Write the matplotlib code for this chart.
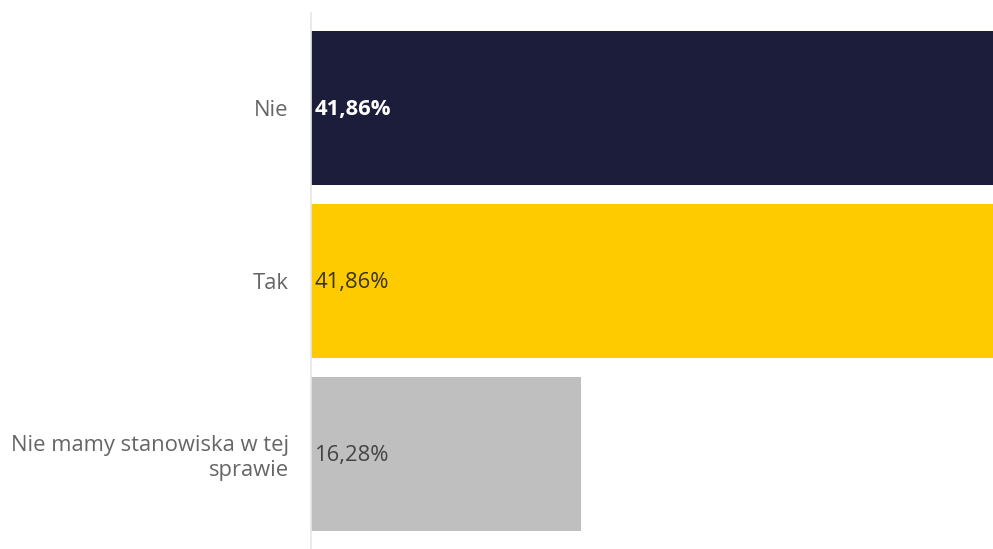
import matplotlib
matplotlib.use("Agg")
import matplotlib.pyplot as plt

categories = ["Nie", "Tak", "Nie mamy stanowiska w tej\nsprawie"]
values = [41.86, 41.86, 16.28]
value_labels = ["41,86%", "41,86%", "16,28%"]
bar_colors = ["#1c1d3b", "#fecb00", "#bfbfbf"]
label_colors = ["#ffffff", "#3a3413", "#444444"]
label_weights = ["bold", "normal", "normal"]

plt.rcParams["font.family"] = ["Open Sans", "DejaVu Sans"]

fig = plt.figure(figsize=(9.93, 5.49), dpi=100)
ax = fig.add_axes([311 / 993, 0, 682 / 993, 536 / 549])

ypos = list(range(len(categories)))
ax.barh(ypos, values, height=0.89, color=bar_colors, edgecolor="none")

ax.set_xlim(0, 41.1)
ax.set_ylim(2.552, -0.549)

for y, lab, c, w in zip(ypos, value_labels, label_colors, label_weights):
    ax.text(0.2, y + 0.01, lab, color=c, fontsize=15.8, fontweight=w,
            va="center", ha="left")

ax.set_yticks(ypos)
ax.set_yticklabels(categories, fontsize=15.8, color="#666666", ha="right",
                   multialignment="right", linespacing=1.25)
ax.tick_params(axis="y", length=0, pad=16)
ax.set_xticks([])

for side in ["top", "right", "bottom"]:
    ax.spines[side].set_visible(False)
ax.spines["left"].set_color("#e6e6e6")
ax.spines["left"].set_linewidth(1.2)

fig.savefig("out.png", dpi=100)
